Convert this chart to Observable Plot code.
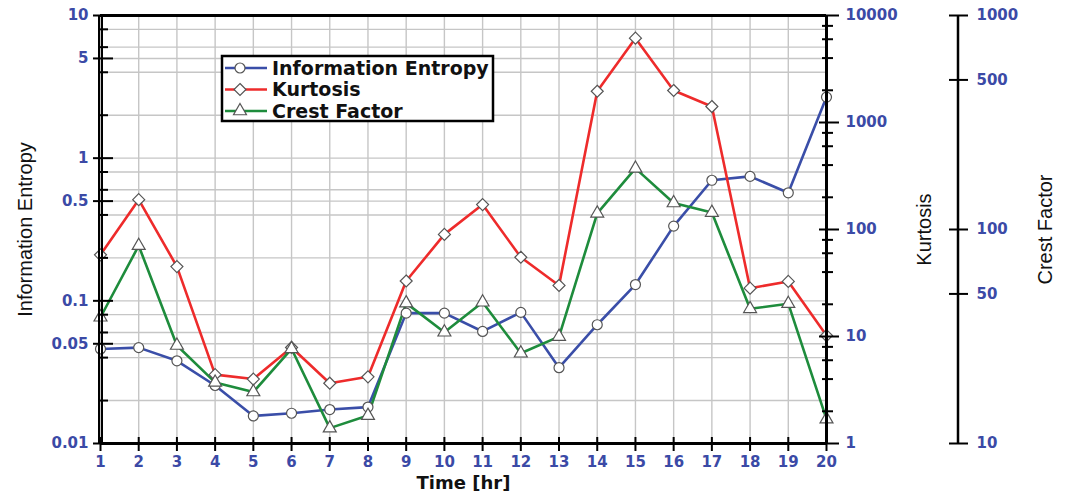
<!DOCTYPE html>
<html><head><meta charset="utf-8">
<script src="https://cdn.jsdelivr.net/npm/d3@7"></script>
<script src="https://cdn.jsdelivr.net/npm/@observablehq/plot@0.6"></script>
<style>body{margin:0;background:#fff;}</style>
</head><body><div id="chart"></div>
<script>
const hours = [1,2,3,4,5,6,7,8,9,10,11,12,13,14,15,16,17,18,19,20];
const entropy = [0.046,0.047,0.038,0.0255,0.0156,0.0163,0.0173,0.018,0.082,0.082,0.061,0.083,0.034,0.068,0.13,0.334,0.70,0.745,0.572,2.68];
const kurtosis = [58,190,45,4.4,4.0,7.9,3.66,4.2,33,90,171,55,30,1960,6140,1990,1410,28.3,32.7,10.2];
const crestFactor = [38.9,84,28.7,19.3,17.4,27.7,11.8,13.5,45.3,33.1,45.7,26.4,31.6,119,193,133,120,42.6,45,13];

const seriesNames = ["Information Entropy","Kurtosis","Crest Factor"];
const seriesColors = ["#3a4ea8","#ee2b2b","#1e8c3c"];
const seriesSymbols = ["circle","diamond2","triangle"];
const seriesRadius = [5,5.4,4.8];

const entropyDomain = [0.01,10];
const kurtosisDomain = [1,10000];
const crestDomain = [10,1000];

const entropyTicks = [0.01,0.05,0.1,0.5,1,5,10];
const entropyMinor = [0.02,0.04,0.06,0.08,0.2,0.4,0.6,0.8,2,4,6,8];
const kurtosisTicks = [1,10,100,1000,10000];
const kurtosisMinor = [2,4,6,8,20,40,60,80,200,400,600,800,2000,4000,6000,8000];
const crestTicks = [10,50,100,500,1000];

const tickBlue = "#3b4aa6";

// map a value on a secondary log axis onto the primary (entropy) log axis
const L = Math.log10;
function toPrimary(v, dom) {
  const t = (L(v) - L(dom[0])) / (L(dom[1]) - L(dom[0]));
  return Math.pow(10, L(entropyDomain[0]) + t * (L(entropyDomain[1]) - L(entropyDomain[0])));
}

const seriesValues = [
  entropy.map(v => v),
  kurtosis.map(v => toPrimary(v, kurtosisDomain)),
  crestFactor.map(v => toPrimary(v, crestDomain))
];
const rows = seriesValues.map((vals, s) => hours.map((h, i) => ({hour: h, y: vals[i], series: seriesNames[s]})));

const tickFont = {fontFamily: "DejaVu Sans", fontWeight: "bold", fontSize: 15, fill: tickBlue};
const titleFont = {fontFamily: "Liberation Sans", fontSize: 20, fill: "#111"};

const dataMarks = [];
rows.forEach((r, s) => {
  dataMarks.push(Plot.line(r, {x: "hour", y: "y", stroke: seriesColors[s], strokeWidth: 2.6}));
});
rows.forEach((r, s) => {
  dataMarks.push(Plot.dot(r, {x: "hour", y: "y", symbol: () => seriesSymbols[s], r: seriesRadius[s], fill: "white", stroke: "#555", strokeWidth: 1.2}));
});

const xMin = d3.min(hours), xMax = d3.max(hours);
const kurtLabelRows = kurtosisTicks.map(v => ({y: toPrimary(v, kurtosisDomain), label: String(v)}));
const crestLabelRows = crestTicks.map(v => ({y: toPrimary(v, crestDomain), label: String(v)}));

const chart = Plot.plot({
  width: 1065,
  height: 498,
  marginLeft: 100,
  marginRight: 239,
  marginTop: 15,
  marginBottom: 55,
  style: {background: "white", overflow: "visible"},
  x: {type: "linear", domain: [xMin, xMax], label: null},
  y: {type: "log", domain: entropyDomain, label: null},
  symbol: {type: "identity"},
  marks: [
    Plot.ruleY([...entropyTicks, ...entropyMinor], {stroke: "#c6c6c6", strokeWidth: 1.4}),
    Plot.ruleX(hours, {stroke: "#c6c6c6", strokeWidth: 1.4}),
    ...dataMarks,
    // frame / axis lines
    Plot.ruleX([xMin], {dx: -1.5, stroke: "black", strokeWidth: 2}),
    Plot.ruleX([xMin], {dx: 1.5, stroke: "black", strokeWidth: 2}),
    Plot.ruleX([xMax], {stroke: "black", strokeWidth: 3}),
    Plot.ruleY([entropyDomain[1]], {stroke: "black", strokeWidth: 3}),
    Plot.ruleY([entropyDomain[0]], {stroke: "black", strokeWidth: 3}),
    // left axis
    Plot.axisY(entropyTicks, {anchor: "left", tickSize: 20, dx: 13, stroke: "black", strokeWidth: 2, fill: "none", label: null}),
    Plot.axisY(entropyMinor, {anchor: "left", tickSize: 10, dx: 8, stroke: "black", strokeWidth: 2, fill: "none", label: null}),
    Plot.text(entropyTicks, {y: d => d, frameAnchor: "left", dx: -12, textAnchor: "end", text: d => String(d), ...tickFont}),
    // kurtosis axis
    Plot.axisY(kurtosisTicks.map(v => toPrimary(v, kurtosisDomain)), {anchor: "right", tickSize: 20, dx: -8, stroke: "black", strokeWidth: 2, fill: "none", label: null}),
    Plot.axisY(kurtosisMinor.map(v => toPrimary(v, kurtosisDomain)), {anchor: "right", tickSize: 11, dx: -5, stroke: "black", strokeWidth: 2, fill: "none", label: null}),
    Plot.text(kurtLabelRows, {y: "y", text: "label", frameAnchor: "right", dx: 19, textAnchor: "start", ...tickFont}),
    // crest factor axis
    Plot.ruleX([xMax], {dx: 131.5, stroke: "black", strokeWidth: 2.5}),
    Plot.axisY(crestTicks.map(v => toPrimary(v, crestDomain)), {anchor: "right", tickSize: 19, dx: 122, stroke: "black", strokeWidth: 2, fill: "none", label: null}),
    Plot.text(crestLabelRows, {y: "y", text: "label", frameAnchor: "right", dx: 150, textAnchor: "start", ...tickFont}),
    // x axis
    Plot.axisX(hours, {anchor: "bottom", tickSize: 14, dy: -6, stroke: "black", strokeWidth: 2, fill: "none", label: null}),
    Plot.axisX(hours, {anchor: "bottom", tickSize: 0, tickPadding: 13, tickFormat: d => String(d), ...tickFont, label: null}),
    // titles
    Plot.text(["Information Entropy"], {frameAnchor: "left", dx: -75, rotate: -90, textAnchor: "middle", ...titleFont}),
    Plot.text(["Kurtosis"], {frameAnchor: "right", dx: 98, rotate: -90, textAnchor: "middle", ...titleFont}),
    Plot.text(["Crest Factor"], {frameAnchor: "right", dx: 219, rotate: -90, textAnchor: "middle", ...titleFont}),
    Plot.text(["Time [hr]"], {frameAnchor: "bottom", dy: 45, textAnchor: "middle", fontFamily: "DejaVu Sans", fontWeight: "bold", fontSize: 18, fill: "#111"})
  ]
});

// legend
const svg = d3.select(chart);
const lg = svg.append("g").attr("class", "legend").attr("text-anchor", "start");
lg.append("rect").attr("x", 222).attr("y", 56).attr("width", 271).attr("height", 65)
  .attr("fill", "white").attr("stroke", "black").attr("stroke-width", 2.5);
const rowY = [68, 89.5, 111];
const symbolTypes = {circle: d3.symbolCircle, diamond2: d3.symbolDiamond2, triangle: d3.symbolTriangle};
seriesNames.forEach((name, i) => {
  const g = lg.append("g").attr("transform", `translate(0,${rowY[i]})`);
  g.append("line").attr("x1", 225).attr("x2", 267).attr("y1", 0).attr("y2", 0)
    .attr("stroke", seriesColors[i]).attr("stroke-width", 2.6);
  g.append("path").attr("transform", "translate(240,0)")
    .attr("d", d3.symbol(symbolTypes[seriesSymbols[i]], Math.PI * seriesRadius[i] * seriesRadius[i])())
    .attr("fill", "white").attr("stroke", "#555").attr("stroke-width", 1.2);
  g.append("text").attr("x", 272).attr("y", 0).attr("dy", "0.36em").attr("text-anchor", "start")
    .attr("font-family", "DejaVu Sans").attr("font-weight", "bold").attr("font-size", 19)
    .attr("fill", "#111").text(name);
});

document.getElementById("chart").appendChild(chart);
</script>
</body></html>
